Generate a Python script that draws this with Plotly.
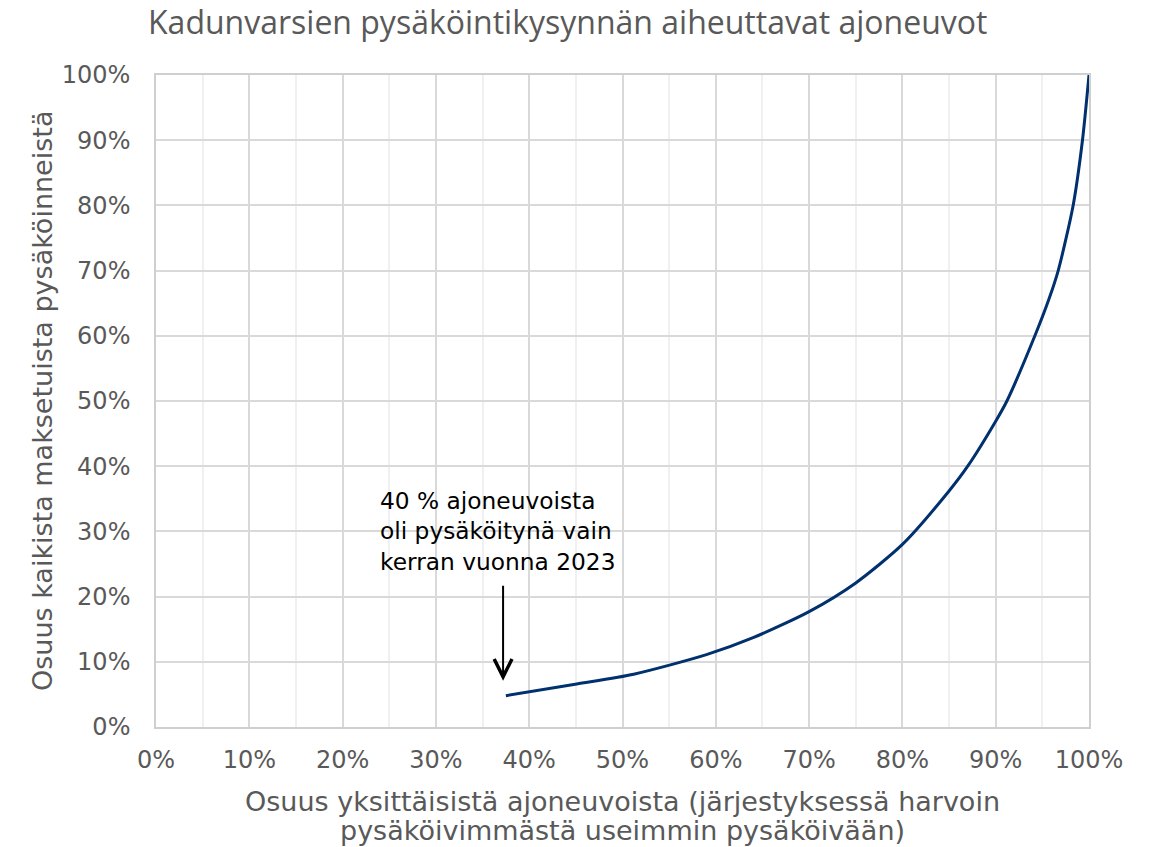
import plotly.graph_objects as go

# Data (percent)
vehicle_share = [37.5, 45.1, 51.2, 59.0, 64.0, 70.0, 75.0, 80.0, 85.0,
                 87.0, 90.0, 91.2, 94.2, 95.7, 96.7, 98.3, 99.3, 100.0]
parking_share = [4.8, 6.6, 8.1, 11.1, 13.7, 17.7, 22.1, 28.0, 36.2,
                 40.0, 46.9, 50.0, 60.0, 65.6, 70.0, 80.0, 90.0, 100.0]

tick_vals = [0, 10, 20, 30, 40, 50, 60, 70, 80, 90, 100]
tick_text = [f"{v}%" for v in tick_vals]

title_text = "Kadunvarsien pysäköintikysynnän aiheuttavat ajoneuvot"
x_title_lines = ["Osuus yksittäisistä ajoneuvoista (järjestyksessä harvoin",
                 "pysäköivimmästä useimmin pysäköivään)"]
y_title = "Osuus kaikista maksetuista pysäköinneistä"
note_text = "40 % ajoneuvoista<br>oli pysäköitynä vain<br>kerran vuonna 2023"

arrow_x = 37.2
arrow_tail_y = 21.9
arrow_tip_y = 7.1

GRAY = "#595959"
VERDANA = "DejaVu Sans"
TICK_FONT = dict(family=VERDANA, size=24, color=GRAY)

W, H = 1153, 847
L, R, T, B = 156, 64, 75, 120
PW, PH = W - L - R, H - T - B


def px_to_paper_x(px):
    return (px - L) / PW


def px_to_paper_y(py):
    return (H - B - py) / PH


fig = go.Figure()
fig.add_trace(go.Scatter(
    x=vehicle_share, y=parking_share, mode="lines",
    line=dict(color="#00306e", width=3, shape="spline", smoothing=0.7),
    hoverinfo="skip", showlegend=False,
))

fig.update_layout(
    width=W, height=H,
    margin=dict(l=L, r=R, t=T, b=B),
    paper_bgcolor="white", plot_bgcolor="white",
    title=dict(text=title_text, x=148 / W, xref="container", xanchor="left",
               y=1 - 23 / H, yref="container", yanchor="middle",
               font=dict(family="Open Sans", size=32, color=GRAY)),
    xaxis=dict(range=[0, 100], tickvals=tick_vals, ticktext=tick_text,
               tickfont=TICK_FONT, showgrid=True, gridcolor="#d9d9d9", gridwidth=1.5,
               minor=dict(dtick=5, tick0=0, showgrid=True, gridcolor="#f0f0f0", gridwidth=1.5),
               showline=True, linecolor="#cfcfcf", linewidth=1.5, mirror=True,
               zeroline=False, ticks="", ticklabelstandoff=10),
    yaxis=dict(range=[0, 100], tickvals=tick_vals, ticktext=tick_text,
               tickfont=TICK_FONT, showgrid=True, gridcolor="#d9d9d9", gridwidth=1.5,
               showline=True, linecolor="#cfcfcf", linewidth=1.5, mirror=True,
               zeroline=False, ticks="", ticklabelstandoff=19),
)

# axis titles as text annotations (tight line spacing like the reference)
title_font = dict(family=VERDANA, size=27, color=GRAY)
for line_text, py in zip(x_title_lines, [801, 830]):
    fig.add_annotation(x=0.5, y=px_to_paper_y(py), xref="paper", yref="paper",
                       text=line_text, showarrow=False, xanchor="center",
                       yanchor="middle", font=title_font)
fig.add_annotation(x=px_to_paper_x(42), y=0.5, xref="paper", yref="paper",
                   text=y_title, showarrow=False, textangle=-90,
                   xanchor="center", yanchor="middle", font=title_font)

fig.add_annotation(
    x=23.8, y=30.1, xref="x", yref="y", text=note_text, showarrow=False,
    xanchor="left", yanchor="middle", align="left",
    font=dict(family=VERDANA, size=23.3, color="black"),
)
fig.add_annotation(
    x=arrow_x, y=arrow_tip_y, ax=arrow_x, ay=arrow_tail_y,
    xref="x", yref="y", axref="x", ayref="y", text="",
    showarrow=True, arrowhead=5, arrowsize=1.75, arrowwidth=2, arrowcolor="black",
    standoff=0, startstandoff=0,
)

fig.write_html(
    "out.html",
    config={"displayModeBar": False},
    post_script="document.body.style.margin='0';document.body.style.overflow='hidden';",
)
